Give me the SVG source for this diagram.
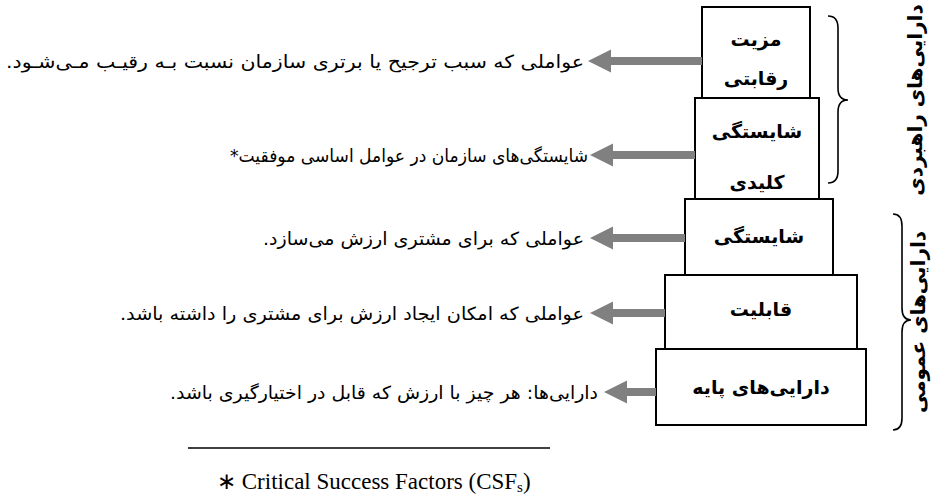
<svg xmlns="http://www.w3.org/2000/svg" width="944" height="501" viewBox="0 0 944 501">
<style>
.box{fill:#fff;stroke:#000;stroke-width:2}
.bt{font-family:"DejaVu Sans",sans-serif;font-weight:bold;font-size:19px;fill:#000;text-anchor:middle}
.desc{font-family:"DejaVu Sans",sans-serif;font-size:18px;fill:#000}
.vt{font-family:"DejaVu Sans",sans-serif;font-weight:bold;font-size:20px;fill:#000;text-anchor:middle}
.arr{stroke:#808080;stroke-width:8;fill:none}
.brace{fill:none;stroke:#000;stroke-width:1.6}
</style>
<defs>
<marker id="ah" markerUnits="userSpaceOnUse" markerWidth="23" markerHeight="24" viewBox="0 0 23 24" refX="1" refY="12" orient="auto">
<path d="M0,0.5 L23,12 L0,23.5 z" fill="#808080"/>
</marker>
</defs>
<rect width="944" height="501" fill="#fff"/>

<g id="n5"><rect class="box" x="656" y="349" width="210" height="76"/><text class="bt" x="761" y="394">دارایی‌های پایه</text></g>
<g id="n4"><rect class="box" x="665" y="275" width="192" height="74"/><text class="bt" x="761" y="316">قابلیت</text></g>
<g id="n3"><rect class="box" x="685" y="199" width="148" height="76"/><text class="bt" x="759" y="243">شایستگی</text></g>
<g id="n2"><rect class="box" x="695" y="98" width="124" height="101"/><text class="bt" x="757" y="138">شایستگی</text><text class="bt" x="757" y="189">کلیدی</text></g>
<g id="n1"><rect class="box" x="702" y="7" width="108" height="91"/><text class="bt" x="756" y="46">مزیت</text><text class="bt" x="756" y="85">رقابتی</text></g>

<g id="connectors">
<line class="arr" x1="702" y1="61" x2="610" y2="61" marker-end="url(#ah)"/>
<line class="arr" x1="695" y1="155" x2="612" y2="155" marker-end="url(#ah)"/>
<line class="arr" x1="685" y1="238" x2="612" y2="238" marker-end="url(#ah)"/>
<line class="arr" x1="665" y1="313" x2="612" y2="313" marker-end="url(#ah)"/>
<line class="arr" x1="656" y1="392" x2="626" y2="392" marker-end="url(#ah)"/>
</g>

<g id="labels">
<text class="desc" x="584" y="68" direction="rtl" text-anchor="start" textLength="578" lengthAdjust="spacingAndGlyphs">عواملی که سبب ترجیح یا برتری سازمان نسبت بـه رقیـب مـی‌شـود.</text>
<text class="desc" x="588" y="162" direction="rtl" text-anchor="start" textLength="358" lengthAdjust="spacingAndGlyphs">شایستگی‌های سازمان در عوامل اساسی موفقیت*</text>
<text class="desc" x="584" y="245" direction="rtl" text-anchor="start" textLength="321" lengthAdjust="spacingAndGlyphs">عواملی که برای مشتری ارزش می‌سازد.</text>
<text class="desc" x="584" y="320" direction="rtl" text-anchor="start" textLength="464" lengthAdjust="spacingAndGlyphs">عواملی که امکان ایجاد ارزش برای مشتری را داشته باشد.</text>
<text class="desc" x="598" y="399" direction="rtl" text-anchor="start" textLength="428" lengthAdjust="spacingAndGlyphs">دارایی‌ها: هر چیز با ارزش که قابل در اختیارگیری باشد.</text>
</g>

<g id="group-strategic">
<path class="brace" d="M828,16 Q838,16 838,28 L838,88 Q838,100 848,100 Q838,100 838,112 L838,171 Q838,183 828,183"/>
<text class="vt" transform="translate(922,100) rotate(-90)">دارایی‌های راهبردی</text>
</g>
<g id="group-general">
<path class="brace" d="M893,214 Q902,214 902,226 L902,308 Q902,320 911,320 Q902,320 902,332 L902,418 Q902,430 893,430"/>
<text class="vt" transform="translate(925,322) rotate(-90)">دارایی‌های عمومی</text>
</g>

<g id="footnote">
<line x1="188" y1="448" x2="550" y2="448" stroke="#000" stroke-width="1.5"/>
<text x="217" y="489" font-family="Liberation Serif, serif" font-size="23" fill="#000">∗  Critical Success Factors (CSF<tspan font-size="15" dy="3">s</tspan><tspan dy="-3">)</tspan></text>
</g>
</svg>
